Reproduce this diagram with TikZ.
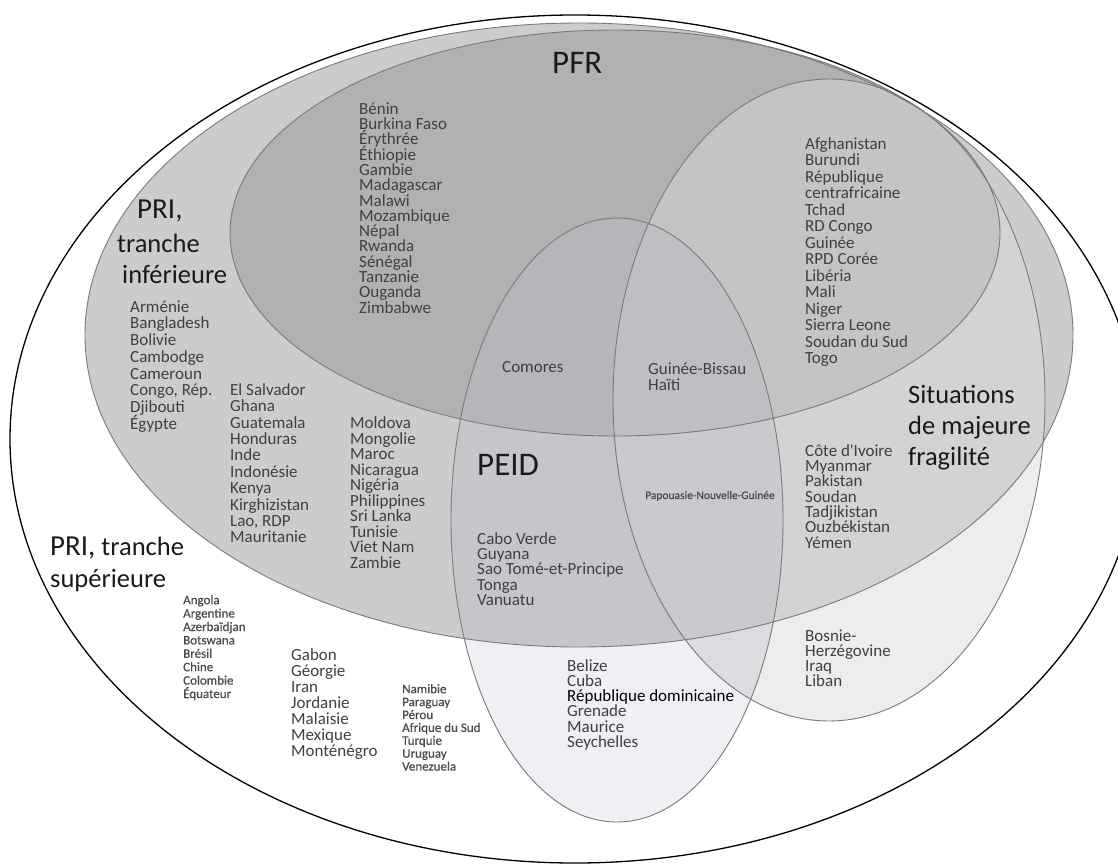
\documentclass[tikz,border=0pt]{standalone}
\usepackage{fontspec}
\setmainfont{Carlito}[Ligatures=TeXOff]
\newfontfamily\heavysmall{Carlito}[Ligatures=TeXOff, FakeBold=0.5]

% region fills
\definecolor{fA}{HTML}{CCCCCC}    % PRI, tranche inferieure
\definecolor{fB}{HTML}{B1B1B1}    % PFR
\definecolor{fC}{HTML}{EDEDED}    % fragilite seule
\definecolor{fCA}{HTML}{D3D3D3}   % fragilite et PRI inf.
\definecolor{fCB}{HTML}{C4C4C4}   % fragilite et PFR
\definecolor{fD}{HTML}{EFF0F4}    % PEID seuls
\definecolor{fDC}{HTML}{DCDDE1}
\definecolor{fDA}{HTML}{C5C6CA}
\definecolor{fDAC}{HTML}{C9CACE}
\definecolor{fDB}{HTML}{B5B6BA}
\definecolor{fDBC}{HTML}{BEBFC3}
\definecolor{rimgrey}{HTML}{7A7A7A}
\definecolor{txtgrey}{HTML}{404040}
\definecolor{smallgrey}{HTML}{4A4A4A}
\definecolor{lbl}{HTML}{1A1A1A}

\newcommand\cfsize[2]{\fontsize{#1}{#2}\selectfont\lineskiplimit=-30pt\relax}

\begin{document}
\begin{tikzpicture}[x=1pt, y=-1pt,
  ellO/.style={x radius=565pt, y radius=424pt},
  ellA/.style={x radius=494pt, y radius=312pt},
  ellB/.style={x radius=385pt, y radius=203pt},
  ellC/.style={x radius=216pt, y radius=321pt},
  ellD/.style={x radius=166pt, y radius=302pt},
  rim/.style={draw=rimgrey, line width=0.9pt},
  lst/.style={anchor=north west, inner sep=0pt, align=left, text=txtgrey},
  big/.style={anchor=base west, inner sep=0pt, text=lbl},
]
\path[use as bounding box] (0,0) rectangle (1118,864);
\coordinate (cO) at (575,439);
\coordinate (cA) at (579,335);
\coordinate (cB) at (615,233);
\coordinate (cC) at (829,400);
\coordinate (cD) at (617,520);

\begin{scope}
\clip (0,0) rectangle (1118,864);
% outer set: PRI, tranche superieure
\fill[white] (cO) ellipse [ellO];
% PRI, tranche inferieure and PFR
\fill[fA] (cA) ellipse [ellA];
\fill[fB] (cB) ellipse [ellB];
% situations de majeure fragilite
\fill[fC] (cC) ellipse [ellC];
\begin{scope}
  \clip (cA) ellipse [ellA];
  \fill[fCA] (cC) ellipse [ellC];
  \clip (cB) ellipse [ellB];
  \fill[fCB] (cC) ellipse [ellC];
\end{scope}
% PEID
\fill[fD] (cD) ellipse [ellD];
\begin{scope}
  \clip (cC) ellipse [ellC];
  \fill[fDC] (cD) ellipse [ellD];
\end{scope}
\begin{scope}
  \clip (cA) ellipse [ellA];
  \fill[fDA] (cD) ellipse [ellD];
  \begin{scope}
    \clip (cC) ellipse [ellC];
    \fill[fDAC] (cD) ellipse [ellD];
  \end{scope}
  \clip (cB) ellipse [ellB];
  \fill[fDB] (cD) ellipse [ellD];
  \clip (cC) ellipse [ellC];
  \fill[fDBC] (cD) ellipse [ellD];
\end{scope}
% outlines
\draw[rim] (cA) ellipse [ellA];
\draw[rim] (cB) ellipse [ellB];
\draw[rim] (cC) ellipse [ellC];
\draw[rim] (cD) ellipse [ellD];
\draw[black, line width=1.3pt] (cO) ellipse [ellO];
\end{scope}

% set labels
\node[big, font=\cfsize{33}{36}] (tPFR) at (552,74) {PFR};
\node[big, font=\cfsize{33}{36}] (tPEID) at (477,475) {PEID};
\node[big, font=\cfsize{29}{32}] (tInfA) at (137,218) {PRI,};
\node[big, font=\cfsize{26.5}{30}] (tInfB) at (117,252) {tranche};
\node[big, font=\cfsize{26.5}{30}] (tInfC) at (122,283) {inférieure};
\node[big, font=\cfsize{26.5}{30}] (tSupA) at (50,555) {{\fontsize{29}{32}\selectfont PRI,} tranche};
\node[big, font=\cfsize{26.5}{30}] (tSupB) at (50,587) {supérieure};
% multi-line node: base anchor sits on its last line
\node[big, align=left, font=\cfsize{26.5}{31}] (tFrag) at (908,465)
  {Situations\\de majeure\\fragilité};

% country lists
\node[lst, font=\cfsize{17}{15.3}] (lPFR) at (359,99.5)
  {\rule{0pt}{14.5pt}Bénin\\Burkina Faso\\Érythrée\\Éthiopie\\Gambie\\Madagascar\\Malawi\\Mozambique\\Népal\\Rwanda\\Sénégal\\Tanzanie\\Ouganda\\Zimbabwe};
\node[lst, font=\cfsize{17}{16.7}] (lInfA) at (130,297.5)
  {\rule{0pt}{14.5pt}Arménie\\Bangladesh\\Bolivie\\Cambodge\\Cameroun\\Congo, Rép.\\Djibouti\\Égypte};
\node[lst, font=\cfsize{17}{16.4}] (lInfB) at (230,380.5)
  {\rule{0pt}{14.5pt}El Salvador\\Ghana\\Guatemala\\Honduras\\Inde\\Indonésie\\Kenya\\Kirghizistan\\Lao, RDP\\Mauritanie};
\node[lst, font=\cfsize{17}{15.5}] (lInfC) at (350,414)
  {\rule{0pt}{14.5pt}Moldova\\Mongolie\\Maroc\\Nicaragua\\Nigéria\\Philippines\\Sri Lanka\\Tunisie\\Viet Nam\\Zambie};
\node[lst, font=\cfsize{17}{16.5}] (lPFRFrag) at (805,134.5)
  {\rule{0pt}{14.5pt}Afghanistan\\Burundi\\République\\centrafricaine\\Tchad\\RD Congo\\Guinée\\RPD Corée\\Libéria\\Mali\\Niger\\Sierra Leone\\Soudan du Sud\\Togo};
\node[big, text=txtgrey, font=\cfsize{17}{17}] (lCom) at (502,372) {Comores};
\node[lst, font=\cfsize{17}{16.7}] (lGB) at (648,359.5)
  {\rule{0pt}{14.5pt}Guinée-Bissau\\Haïti};
\node[lst, font=\cfsize{17}{15.3}] (lPEIDInf) at (477,529.5)
  {\rule{0pt}{14.5pt}Cabo Verde\\Guyana\\Sao Tomé-et-Principe\\Tonga\\Vanuatu};
\node[big, text=smallgrey, font=\heavysmall\cfsize{11.5}{12}] (lPNG) at (645,499) {Papouasie-Nouvelle-Guinée};
\node[lst, font=\cfsize{17}{15.3}] (lFragInf) at (805,441.5)
  {\rule{0pt}{14.5pt}Côte d'Ivoire\\Myanmar\\Pakistan\\Soudan\\Tadjikistan\\Ouzbékistan\\Yémen};
\node[lst, font=\cfsize{17}{15}] (lFrag) at (805,626.5)
  {\rule{0pt}{14.5pt}Bosnie-\\Herzégovine\\Iraq\\Liban};
\node[lst, font=\cfsize{17}{15.2}] (lPEID) at (567,656.5)
  {\rule{0pt}{14.5pt}Belize\\Cuba\\\textcolor{black}{République dominicaine}\\Grenade\\Maurice\\Seychelles};
\node[lst, font=\cfsize{17}{16}] (lSupB) at (291,645.5)
  {\rule{0pt}{14.5pt}Gabon\\Géorgie\\Iran\\Jordanie\\Malaisie\\Mexique\\Monténégro};
\node[lst, text=smallgrey, font=\heavysmall\cfsize{13}{13.4}] (lSupA) at (183,593)
  {\rule{0pt}{11pt}Angola\\Argentine\\Azerbaïdjan\\Botswana\\Brésil\\Chine\\Colombie\\Équateur};
\node[lst, text=smallgrey, font=\heavysmall\cfsize{13}{12.9}] (lSupC) at (402,682)
  {\rule{0pt}{11pt}Namibie\\Paraguay\\Pérou\\Afrique du Sud\\Turquie\\Uruguay\\Venezuela};
\end{tikzpicture}
\end{document}
